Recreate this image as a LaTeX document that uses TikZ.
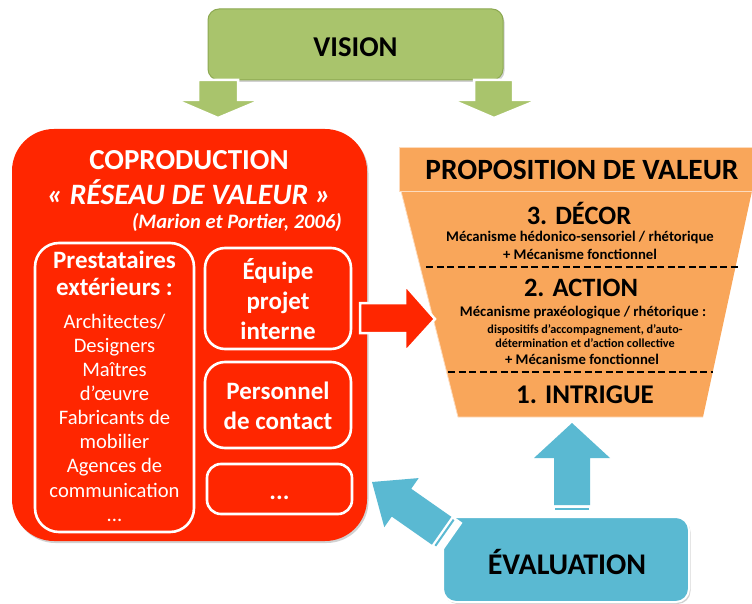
\documentclass[tikz,border=0pt]{standalone}
\usepackage{fontspec}
\setmainfont{Carlito}
\usetikzlibrary{shadows}
\definecolor{vred}{HTML}{FF2600}
\definecolor{vorange}{HTML}{F9A65A}
\definecolor{vgreen}{HTML}{A9C46C}
\definecolor{vgreenline}{HTML}{8CA851}
\definecolor{vblue}{HTML}{5AB9D2}
\newcommand{\fs}[2]{\fontsize{#1}{#2}\selectfont}
\newcommand{\stripedarrow}[5]{%
  \filldraw[white, line width=3pt, line join=miter] (0,0) -- (#3,#2) -- (#4,#2) -- (#4,#1) -- (-#4,#1) -- (-#4,#2) -- (-#3,#2) -- cycle;
  \fill[#5] (0,0) -- (#3,#2) -- (#4,#2) -- (#4,#1-11) -- (-#4,#1-11) -- (-#4,#2) -- (-#3,#2) -- cycle;
  \fill[#5] (-#4+1,#1-8.5) rectangle (#4-1,#1-6.5);
}
\tikzset{
  softshadow/.style={drop shadow={shadow xshift=1.5pt, shadow yshift=-2pt, fill=black, opacity=0.18}},
  whitebox/.style={draw=white, line width=2.6pt, rounded corners=20pt, fill=vred, inner sep=0pt},
  wtext/.style={text=white, font=\bfseries\fs{25}{30}, align=center, inner sep=0pt},
  btext/.style={text=black, inner sep=0pt, align=center},
  sepline/.style={line width=1.8pt, dash pattern=on 7pt off 3.5pt},
  blockarrow/.style={line width=2.5pt, draw=white, line join=miter},
}
\begin{document}
\begin{tikzpicture}[x=1pt,y=-1pt]
\useasboundingbox (0,0) rectangle (752,604);
% VISION
\node[draw=vgreenline, line width=1pt, fill=vgreen, rounded corners=11pt, minimum width=295pt, minimum height=71pt, softshadow, inner sep=0pt] (vision) at (355.5,44.5) {};
\node[btext, font=\bfseries\fs{28.7}{30}] (visiont) at (355.5,47) {VISION};
% green arrows
\filldraw[blockarrow, fill=vgreen] (198,80) -- (238,80) -- (238,100) -- (261,100) -- (218,118) -- (176,100) -- (198,100) -- cycle;
\filldraw[blockarrow, fill=vgreen] (474,80) -- (513,80) -- (513,100) -- (538,100) -- (494,118) -- (452,100) -- (474,100) -- cycle;
% red coproduction box
\node[fill=vred, rounded corners=42pt, minimum width=355pt, minimum height=412pt, softshadow, inner sep=0pt] (copro) at (189.5,335) {};
\node[wtext, font=\bfseries\fs{29}{30}] (coprot) at (189,160) {COPRODUCTION};
\node[wtext, font=\bfseries\itshape\fs{29.6}{30}] (reseau) at (189,192) {«~RÉSEAU DE VALEUR~»};
\node[wtext, font=\bfseries\itshape\fs{20.5}{22}, anchor=east] (marion) at (342,222) {(Marion et Portier, 2006)};
% inner boxes
\node[whitebox, rounded corners=24pt, minimum width=159pt, minimum height=289pt] (presta) at (114.5,387.5) {};
\node[wtext, font=\bfseries\fs{25}{27}, anchor=north] (prestat) at (114.5,251) {Prestataires\\extérieurs :};
\node[wtext, font=\fs{20.6}{24.15}, anchor=north] (prestal) at (114.5,313.5) {Architectes/\\Designers\\Maîtres\\d’œuvre\\Fabricants de\\mobilier\\Agences de\\communication\\...};
\node[whitebox, minimum width=146pt, minimum height=101pt] (equipe) at (278,298.5) {};
\node[wtext] (equipet) at (278,299.5) {Équipe\\projet\\interne};
\node[whitebox, minimum width=146pt, minimum height=86pt] (perso) at (278,405) {};
\node[wtext] (persot) at (278,406) {Personnel\\de contact};
\node[whitebox, rounded corners=14pt, minimum width=145pt, minimum height=50pt] (etc) at (279.5,489) {};
\node[wtext, anchor=base] (etct) at (279.5,499) {...};
% funnel
\fill[vorange] (401,191) -- (752,191) -- (703,417) -- (458,417) -- cycle;
\draw[white!60!vorange, line width=0.8pt] (401,191) -- (458,417) -- (703,417);
\filldraw[fill=vorange, draw=white!60!vorange, line width=0.8pt] (399,147) rectangle (753,191);
\node[btext, font=\bfseries\fs{29.4}{32}] (propo) at (582,170) {PROPOSITION DE VALEUR};
\node[btext, font=\bfseries\fs{26.5}{30}] (decor) at (579,213) {3. DÉCOR};
\node[btext, font=\bfseries\fs{14.7}{17.5}] (decor1) at (580,245.5) {Mécanisme hédonico-sensoriel / rhétorique\\+ Mécanisme fonctionnel};
\draw[sepline] (426,267) -- (739,267);
\node[btext, font=\bfseries\fs{26.5}{30}] (action) at (581,288) {2. ACTION};
\node[btext, font=\bfseries\fs{14.7}{17}] (action1) at (583,313) {Mécanisme praxéologique / rhétorique :};
\node[btext, font=\bfseries\fs{12.2}{13.8}] (action2) at (585,336.5) {dispositifs d’accompagnement, d’auto-\\détermination et d’action collective};
\node[btext, font=\bfseries\fs{14.7}{17}] (action3) at (582,359) {+ Mécanisme fonctionnel};
\draw[sepline] (448,372) -- (713,372);
\node[btext, font=\bfseries\fs{27}{30}] (intrigue) at (585,395) {1. INTRIGUE};
% red arrow
\filldraw[blockarrow, fill=vred] (360,303) -- (405,303) -- (405,285) -- (435,319) -- (405,352) -- (405,333) -- (360,333) -- cycle;
% evaluation
\node[draw=white, line width=2pt, fill=vblue, rounded corners=13pt, minimum width=246pt, minimum height=85pt, softshadow, inner sep=0pt] (eval) at (566,559.5) {};
\node[btext, font=\bfseries\fs{30}{32}] (evalt) at (567,562) {ÉVALUATION};
% blue arrows
\begin{scope}[shift={(572,423)}]
  \stripedarrow{93}{35}{38}{18}{vblue}
\end{scope}
\begin{scope}[shift={(372,482)}, rotate=55]
  \stripedarrow{96}{36}{30}{17}{vblue}
\end{scope}
\end{tikzpicture}
\end{document}
